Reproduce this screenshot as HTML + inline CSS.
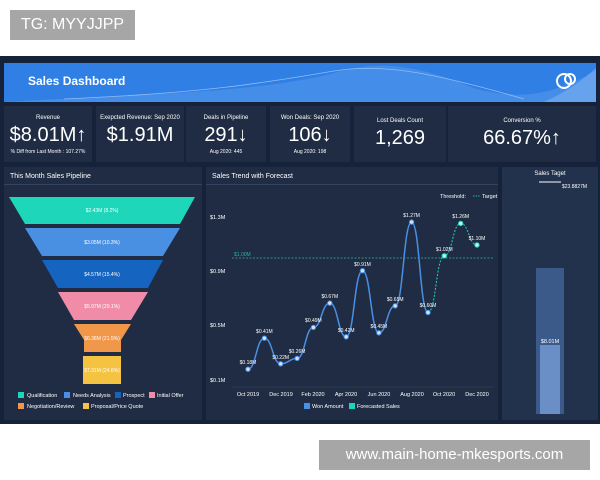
<!DOCTYPE html>
<html><head><meta charset="utf-8"><style>
body{margin:0;width:600px;height:480px;background:#fff;position:relative;overflow:hidden;font-family:"Liberation Sans",sans-serif}
.a{position:absolute}
.card{position:absolute;top:106px;height:56px;background:#1f2c44;color:#fff;text-align:center}
.card .t{font-size:6px;margin-top:9px;white-space:nowrap}
.card .v{font-size:20px;margin-top:3px;white-space:nowrap}
.card .s{font-size:5px;margin-top:2px;white-space:nowrap}
.pan{position:absolute;top:167px;height:253px;background:#1f2c44}
.pt{color:#fff;font-size:7px;padding:6px 0 0 6px;height:11px;border-bottom:1px solid #34445e}
</style></head><body>
<div class="a" style="left:10px;top:10px;width:125px;height:30px;background:#a6a6a6;color:#fff;font-size:16px;line-height:30px;text-align:center">TG: MYYJJPP</div>
<div class="a" style="left:0;top:56px;width:600px;height:368px;background:#16213a"></div>
<svg class="a" style="left:4px;top:63px" width="592" height="39">
<rect width="592" height="39" fill="#2f7fe4"/>
<path d="M0,39 C150,30 250,30 330,10 C380,-5 420,5 470,25 C520,39 550,30 592,8 L592,39Z" fill="#5a9bec" opacity=".5"/>
<path d="M60,36 C200,30 260,20 330,8 C380,0 430,10 520,36" stroke="#8fbcf3" fill="none" stroke-width=".8"/>
<path d="M540,39 C560,30 575,20 592,5 L592,39Z" fill="#7fb1f0" opacity=".6"/>
<text x="24" y="22" fill="#fff" font-size="12" font-weight="bold" font-family="Liberation Sans">Sales Dashboard</text>
<circle cx="560" cy="18" r="7" fill="none" stroke="#fff" stroke-width="2"/><circle cx="566" cy="16" r="5" fill="none" stroke="#fff" stroke-width="2"/>
</svg>
<div class="card" style="left:4px;width:88px"><div class="t">Revenue</div><div class="v">$8.01M&#8593;</div><div class="s">% Diff from Last Month : 107.27%</div></div>
<div class="card" style="left:96px;width:88px"><div class="t">Exepcted Revenue: Sep 2020</div><div class="v">$1.91M</div></div>
<div class="card" style="left:186px;width:80px"><div class="t">Deals in Pipeline</div><div class="v">291&#8595;</div><div class="s">Aug 2020: 445</div></div>
<div class="card" style="left:270px;width:80px"><div class="t">Won Deals: Sep 2020</div><div class="v">106&#8595;</div><div class="s">Aug 2020: 198</div></div>
<div class="card" style="left:354px;width:92px"><div class="t" style="margin-top:12px">Lost Deals Count</div><div class="v">1,269</div></div>
<div class="card" style="left:448px;width:148px"><div class="t" style="margin-top:12px">Conversion %</div><div class="v">66.67%&#8593;</div></div>
<div class="pan" style="left:4px;width:198px"><div class="pt">This Month Sales Pipeline</div></div>
<div class="pan" style="left:206px;width:292px"><div class="pt">Sales Trend with Forecast</div></div>
<div class="pan" style="left:502px;width:96px;background:#22314c"></div>
<svg class="a" style="left:0;top:0" width="600" height="480" font-family="Liberation Sans">
<g font-size="5" fill="#fff" text-anchor="middle">
<polygon points="9,197 195,197 180,224 25,224" fill="#1ed6b9"/><text x="102" y="212">$2.43M (8.2%)</text>
<polygon points="25,228 180,228 163,256 42,256" fill="#4a90e2"/><text x="102" y="244">$3.05M (10.3%)</text>
<polygon points="42,260 163,260 148,288 58,288" fill="#1565c0"/><text x="102" y="276">$4.57M (15.4%)</text>
<polygon points="58,292 148,292 131,320 74,320" fill="#f08ca8"/><text x="102" y="308">$5.97M (20.1%)</text>
<polygon points="74,324 131,324 121,340 121,352 84,352 84,340" fill="#f0974a"/><text x="102" y="340">$6.38M (21.5%)</text>
<rect x="83" y="356" width="38" height="28" fill="#f5c342"/><text x="102" y="372">$7.31M (24.6%)</text>
</g>
<g font-size="5.5" fill="#fff">
<rect x="18" y="392" width="6" height="6" fill="#1ed6b9"/><text x="27" y="397">Qualification</text>
<rect x="64" y="392" width="6" height="6" fill="#4a90e2"/><text x="73" y="397">Needs Analysis</text>
<rect x="115" y="392" width="6" height="6" fill="#1565c0"/><text x="123" y="397">Prospect</text>
<rect x="149" y="392" width="6" height="6" fill="#f08ca8"/><text x="157" y="397">Initial Offer</text>
<rect x="18" y="403" width="6" height="6" fill="#f0974a"/><text x="27" y="408">Negotiation/Review</text>
<rect x="83" y="403" width="6" height="6" fill="#f5c342"/><text x="91" y="408">Proposal/Price Quote</text>
</g>
<g font-size="5.5" fill="#fff">
<text x="210" y="219">$1.3M</text><text x="210" y="273">$0.9M</text><text x="210" y="327">$0.5M</text><text x="210" y="382">$0.1M</text>
<text x="440" y="198">Threshold:</text><line x1="473" y1="196" x2="480" y2="196" stroke="#2bb5a0" stroke-dasharray="1.5,1"/><text x="482" y="198">Target</text>
<g text-anchor="middle"><text x="248" y="396">Oct 2019</text><text x="281" y="396">Dec 2019</text><text x="313" y="396">Feb 2020</text><text x="346" y="396">Apr 2020</text><text x="379" y="396">Jun 2020</text><text x="412" y="396">Aug 2020</text><text x="444" y="396">Oct 2020</text><text x="477" y="396">Dec 2020</text></g>
<rect x="304" y="403" width="6" height="6" fill="#4a90e2"/><text x="312" y="408">Won Amount</text>
<rect x="349" y="403" width="6" height="6" fill="#1ed6b9"/><text x="357" y="408">Forecasted Sales</text>
</g>
<line x1="232" y1="387" x2="494" y2="387" stroke="#34445e" stroke-width=".6"/>
<line x1="232" y1="258" x2="494" y2="258" stroke="#2bb5a0" stroke-width=".7" stroke-dasharray="2,1.5"/>
<text x="234" y="256" font-size="5" fill="#2bb5a0">$1.00M</text>
<path d="M248,369.2 C256.2,369.2 256.2,338.2 264.4,338.2 C272.5,338.2 272.5,363.8 280.7,363.8 C288.9,363.8 288.9,358.4 297.1,358.4 C305.2,358.4 305.2,327.4 313.4,327.4 C321.6,327.4 321.6,303.1 329.8,303.1 C338,303.1 338,336.8 346.2,336.8 C354.3,336.8 354.3,270.7 362.5,270.7 C370.7,270.7 370.7,332.8 378.9,332.8 C387,332.8 387,305.8 395.2,305.8 C403.4,305.8 403.4,222.1 411.6,222.1 C419.8,222.1 419.8,312.5 428,312.5" fill="none" stroke="#4a90e2" stroke-width="1.5"/>
<path d="M428,312.5 C436.1,312.5 436.1,255.8 444.3,255.8 C452.5,255.8 452.5,223.4 460.7,223.4 C468.8,223.4 468.8,245 477,245" fill="none" stroke="#1ed6b9" stroke-width="1" stroke-dasharray="2,1.5"/>
<g fill="#cfe3fb" stroke="#4a90e2" stroke-width="1">
<circle cx="248" cy="369.2" r="2.2"/><circle cx="264.4" cy="338.2" r="2.2"/><circle cx="280.7" cy="363.8" r="2.2"/><circle cx="297.1" cy="358.4" r="2.2"/><circle cx="313.4" cy="327.4" r="2.2"/><circle cx="329.8" cy="303.1" r="2.2"/><circle cx="346.2" cy="336.8" r="2.2"/><circle cx="362.5" cy="270.7" r="2.2"/><circle cx="378.9" cy="332.8" r="2.2"/><circle cx="395.2" cy="305.8" r="2.2"/><circle cx="411.6" cy="222.1" r="2.2"/><circle cx="428" cy="312.5" r="2.2"/></g>
<g fill="#bff5ea" stroke="#1ed6b9" stroke-width="1"><circle cx="444.3" cy="255.8" r="2.2"/><circle cx="460.7" cy="223.4" r="2.2"/><circle cx="477" cy="245" r="2.2"/></g>
<g font-size="5" fill="#fff" text-anchor="middle">
<text x="248" y="364">$0.18M</text><text x="264.4" y="333">$0.41M</text><text x="280.7" y="359">$0.22M</text><text x="297.1" y="353">$0.26M</text><text x="313.4" y="322">$0.49M</text><text x="329.8" y="298">$0.67M</text><text x="346.2" y="332">$0.42M</text><text x="362.5" y="266">$0.91M</text><text x="378.9" y="328">$0.45M</text><text x="395.2" y="301">$0.65M</text><text x="411.6" y="217">$1.27M</text><text x="428" y="307">$0.60M</text><text x="444.3" y="251">$1.02M</text><text x="460.7" y="218">$1.26M</text><text x="477" y="240">$1.10M</text>
</g>
<text x="550" y="175" font-size="6" fill="#fff" text-anchor="middle">Sales Taget</text>
<line x1="539" y1="182" x2="561" y2="182" stroke="#fff" stroke-width="1"/>
<text x="562" y="188" font-size="5" fill="#fff">$23.8827M</text>
<rect x="536" y="268" width="28" height="146" fill="#3b5a8a"/>
<rect x="540" y="345" width="20" height="69" fill="#6a8fc6"/>
<text x="550" y="343" font-size="5.5" fill="#fff" text-anchor="middle">$8.01M</text>
</svg>
<div class="a" style="left:319px;top:440px;width:271px;height:30px;background:#a6a6a6;color:#fff;font-size:15px;line-height:30px;text-align:center">www.main-home-mkesports.com</div>
</body></html>
